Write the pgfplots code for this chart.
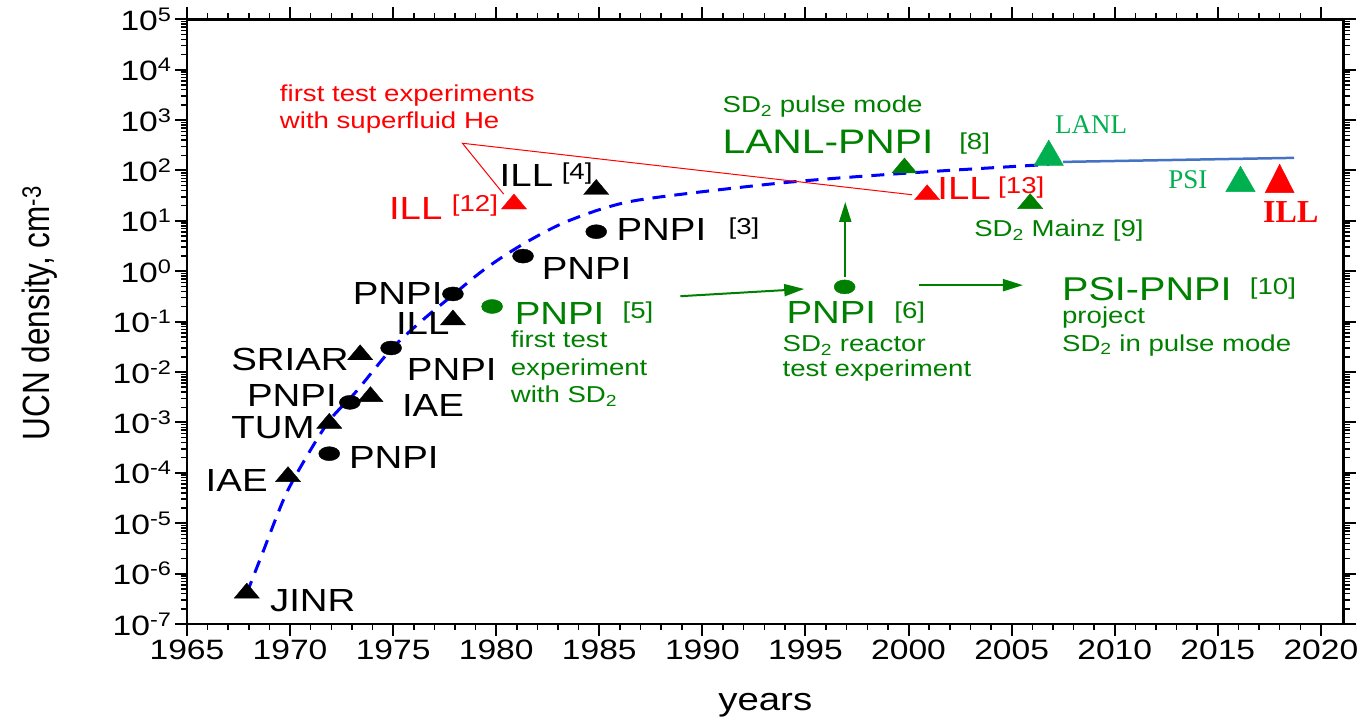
\documentclass[border=0pt]{standalone}
\usepackage{fontspec}
\setmainfont{Liberation Sans}[FakeStretch=1.2]
\newfontfamily\ylabfont{Liberation Sans}[FakeStretch=0.83]
\newfontfamily\serifn{Liberation Serif}
\usepackage{pgfplots}
\pgfplotsset{compat=1.18}
\usetikzlibrary{arrows.meta}
\definecolor{dgreen}{RGB}{0,128,0}
\definecolor{lgreen}{RGB}{0,176,80}
\definecolor{lblue}{RGB}{68,114,196}
\newcommand\fs[1]{\fontsize{#1}{#1}\selectfont}
\def\myminor{1e-7}
\pgfplotsforeachungrouped \ee in {-7,...,4}{\pgfplotsforeachungrouped \mm in {2,...,9}{\xdef\myminor{\myminor,\mm e\ee}}}
\tikzset{
 big/.style={font=\fs{32}, inner sep=0pt},
 ref/.style={font=\fs{23}, inner sep=0pt},
 sm/.style={font=\fs{23}, inner sep=0pt},
}
\begin{document}
\begin{tikzpicture}
\begin{axis}[
 name=ax, at={(0,0)}, anchor=south west,
 scale only axis, width=1156.6pt, height=604.7pt,
 xmin=1965, xmax=2021.1, ymode=log, ymin=1e-7, ymax=1e5,
 clip=false,
 axis line style={line width=2.5pt},
 tick align=outside,
 xtick={1965,1970,...,2020}, minor x tick num=4,
 ytick={1e-7,1e-6,1e-5,1e-4,1e-3,1e-2,1e-1,1,1e1,1e2,1e3,1e4,1e5},
 yticklabels={10\textsuperscript{-7},10\textsuperscript{-6},10\textsuperscript{-5},10\textsuperscript{-4},10\textsuperscript{-3},10\textsuperscript{-2},10\textsuperscript{-1},10\textsuperscript{0},10\textsuperscript{1},10\textsuperscript{2},10\textsuperscript{3},10\textsuperscript{4},10\textsuperscript{5}},
 minor ytick/.expanded={\myminor},
 major tick length=12pt, minor tick length=6pt,
 major tick style={line width=2pt, black},
 minor tick style={line width=1.5pt, black},
 xticklabel style={font=\fs{28}},
 yticklabel style={font=\fs{28}},
 /pgf/number format/1000 sep={},
 /pgf/number format/assume math mode=true,
 xlabel={years},
 xlabel style={font=\fs{32}, at={(axis description cs:0.5,-0.134)}, anchor=center},
 ylabel={\ylabfont UCN density, cm\textsuperscript{-3}},
 ylabel style={font=\fs{38}, at={(axis description cs:-0.127,0.514)}, anchor=center},
]
% trend curves
\addplot[blue, line width=3pt, dash pattern=on 13pt off 9pt, smooth, mark=none] coordinates {
 (1967.9,4.07e-7) (1968.6,2.19e-6) (1969.75,3.39e-5) (1970.8,2.09e-4) (1971.93,1.12e-3)
 (1973.2,4.07e-3) (1974.9,0.0282) (1976.4,0.105) (1977.9,0.339) (1979.4,1.07)
 (1981.1,3.09) (1983.1,8.51) (1985.3,18.2) (1987.5,28.2) (1994.0,57.5) (2000.0,89.1) (2006.8,132)};
\addplot[lblue, line width=2.5pt, mark=none] coordinates {(2007.5,148) (2018.7,178)};
% red pointer lines
\addplot[red, line width=1pt, mark=none] coordinates {(1980.36,34) (1978.36,347) (2000.17,33)};
% green arrows
\draw[dgreen, line width=2pt, -{Triangle[length=20pt,width=12pt]}] (axis cs:1988.93,0.32) -- (axis cs:1994.94,0.445);
\draw[dgreen, line width=2pt, -{Triangle[length=20pt,width=12pt]}] (axis cs:2000.51,0.53) -- (axis cs:2005.55,0.53);
\draw[dgreen, line width=2pt, -{Triangle[length=20pt,width=12pt]}] (axis cs:1996.93,0.77) -- (axis cs:1996.93,23.7);
% black data
\addplot[only marks, mark=triangle*, mark size=10pt, mark options={xscale=1.45, draw=black, fill=black}] coordinates {
 (1967.9,4.1e-7) (1969.9,8.4e-5) (1971.9,9.6e-4) (1973.9,3.25e-3) (1973.4,0.022) (1977.9,0.108) (1984.85,42)};
\addplot[only marks, mark=*, mark size=7pt, mark options={xscale=1.5, draw=black, fill=black}] coordinates {
 (1971.9,2.4e-4) (1972.9,2.5e-3) (1974.9,0.030) (1977.9,0.355) (1981.3,2.0) (1984.85,6.1)};
% red data
\addplot[only marks, mark=triangle*, mark size=10pt, mark options={xscale=1.45, draw=red, fill=red}] coordinates {
 (1980.86,21.6) (2000.9,33)};
\addplot[only marks, mark=triangle*, mark size=19pt, mark options={xscale=0.88, draw=red, fill=red}] coordinates {(2018.0,56)};
% dark green data
\addplot[only marks, mark=triangle*, mark size=10pt, mark options={xscale=1.45, draw=dgreen, fill=dgreen}] coordinates {
 (1999.8,112) (2005.9,22)};
\addplot[only marks, mark=*, mark size=7pt, mark options={xscale=1.5, draw=dgreen, fill=dgreen}] coordinates {
 (1979.8,0.2) (1996.9,0.49)};
% light green data
\addplot[only marks, mark=triangle*, mark size=17pt, mark options={xscale=1.0, draw=lgreen, fill=lgreen}] coordinates {
 (2006.8,185) (2016.1,56)};
% black labels
\node[big, anchor=west] at (axis cs:1969.02,2.9e-7) {JINR};
\node[big, anchor=east] at (axis cs:1968.92,6.9e-5) {IAE};
\node[big, anchor=west] at (axis cs:1972.85,2.0e-4) {PNPI};
\node[big, anchor=east] at (axis cs:1971.2,7.8e-4) {TUM};
\node[big, anchor=east] at (axis cs:1972.27,3.5e-3) {PNPI};
\node[big, anchor=west] at (axis cs:1975.42,2.2e-3) {IAE};
\node[big, anchor=east] at (axis cs:1972.85,0.0174) {SRIAR};
\node[big, anchor=west] at (axis cs:1975.66,0.011) {PNPI};
\node[big, anchor=east] at (axis cs:1977.74,0.09) {ILL};
\node[big, anchor=east] at (axis cs:1977.4,0.37) {PNPI};
\node[big, anchor=west] at (axis cs:1982.2,1.16) {PNPI};
\node[big, anchor=west] at (axis cs:1985.83,6.6) {PNPI};
\node[ref, anchor=west] at (axis cs:1991.26,6.9) {[3]};
\node[big, anchor=west] at (axis cs:1980.16,78) {ILL};
\node[ref, anchor=west] at (axis cs:1983.17,85) {[4]};
% red labels
\node[big, red, anchor=east] at (axis cs:1977.4,18) {ILL};
\node[ref, red, anchor=west] at (axis cs:1977.84,19.8) {[12]};
\node[big, red, anchor=west] at (axis cs:2001.39,43) {ILL};
\node[ref, red, anchor=west] at (axis cs:2004.34,45) {[13]};
\node[sm, red, anchor=base west] at (axis cs:1969.5,2286) {first test experiments};
\node[sm, red, anchor=base west] at (axis cs:1969.5,687) {with superfluid He};
\node[font=\serifn\bfseries\fs{32}, inner sep=0pt, red] at (axis cs:2018.54,15) {ILL};
% light green labels
\node[font=\serifn\fs{27}, inner sep=0pt, lgreen] at (axis cs:2008.85,830) {LANL};
\node[font=\serifn\fs{27}, inner sep=0pt, lgreen] at (axis cs:2013.55,67) {PSI};
% dark green labels
\node[sm, dgreen, anchor=base west] at (axis cs:1990.97,1384) {SD\textsubscript{2} pulse mode};
\node[font=\fs{34}, inner sep=0pt, dgreen, anchor=west] at (axis cs:1990.97,367) {LANL-PNPI};
\node[ref, dgreen, anchor=west] at (axis cs:2002.45,340) {[8]};
\node[sm, dgreen, anchor=base west] at (axis cs:2003.18,4.86) {SD\textsubscript{2} Mainz [9]};
\node[big, dgreen, anchor=west] at (axis cs:1980.89,0.142) {PNPI};
\node[ref, dgreen, anchor=west] at (axis cs:1986.12,0.15) {[5]};
\node[sm, dgreen, anchor=base west] at (axis cs:1980.70,0.0305) {first test};
\node[sm, dgreen, anchor=base west] at (axis cs:1980.70,8.4e-3) {experiment};
\node[sm, dgreen, anchor=base west] at (axis cs:1980.70,2.44e-3) {with SD\textsubscript{2}};
\node[big, dgreen, anchor=west] at (axis cs:1994.07,0.15) {PNPI};
\node[ref, dgreen, anchor=west] at (axis cs:1999.30,0.15) {[6]};
\node[sm, dgreen, anchor=base west] at (axis cs:1993.88,0.0254) {SD\textsubscript{2} reactor};
\node[sm, dgreen, anchor=base west] at (axis cs:1993.88,8.1e-3) {test experiment};
\node[font=\fs{33}, inner sep=0pt, dgreen, anchor=west] at (axis cs:2007.44,0.44) {PSI-PNPI};
\node[ref, dgreen, anchor=west] at (axis cs:2016.55,0.45) {[10]};
\node[sm, dgreen, anchor=base west] at (axis cs:2007.44,0.09) {project};
\node[sm, dgreen, anchor=base west] at (axis cs:2007.44,0.026) {SD\textsubscript{2} in pulse mode};
\end{axis}
\pgfresetboundingbox
\path[use as bounding box] (-187pt,-97pt) rectangle (1176pt,624pt);
\end{tikzpicture}
\end{document}
